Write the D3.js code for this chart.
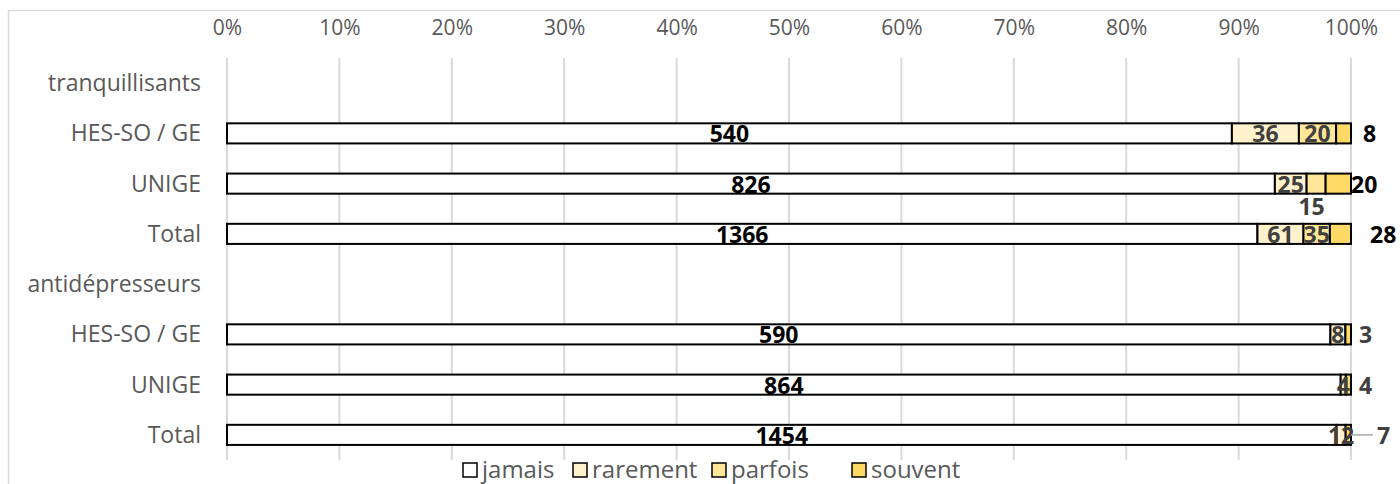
<!DOCTYPE html>
<html>
<head>
<meta charset="utf-8">
<script src="https://cdn.jsdelivr.net/npm/d3@7"></script>
<style>
  body { margin: 0; background: #fff; }
  text { font-family: "Open Sans", sans-serif; }
</style>
</head>
<body>
<script>
const rows = ['tranquillisants', 'HES-SO / GE', 'UNIGE', 'Total',
              'antidépresseurs', 'HES-SO / GE', 'UNIGE', 'Total'];
const series = ['jamais', 'rarement', 'parfois', 'souvent'];
const colors = ['#ffffff', '#fff2cc', '#ffe699', '#ffd966'];
// null = header row without a bar
const jamais   = [null, 540, 826, 1366, null, 590, 864, 1454];
const rarement = [null, 36, 25, 61, null, 8, 4, 12];
const parfois  = [null, 20, 15, 35, null, 0, 0, 0];
const souvent  = [null, 8, 20, 28, null, 3, 4, 7];
const ticks = d3.range(0, 1.01, 0.1);

const width = 1400, height = 484;
const svg = d3.select('body').append('svg')
  .attr('width', width).attr('height', height);

// chart border
svg.append('rect')
  .attr('x', 8.5).attr('y', 10.5).attr('width', 1400).attr('height', 500)
  .attr('fill', 'none').attr('stroke', '#d9d9d9').attr('stroke-width', 1.5);

const x = d3.scaleLinear().domain([0, 1]).range([227, 1351]);
const y = d3.scaleBand().domain(d3.range(rows.length))
  .range([58, 460]).paddingInner(0.6).paddingOuter(0.3);

// gridlines
svg.append('g').selectAll('line').data(ticks).join('line')
  .attr('x1', d => x(d)).attr('x2', d => x(d))
  .attr('y1', 58).attr('y2', 460)
  .attr('stroke', '#d9d9d9').attr('stroke-width', 2);

// top axis labels
const axis = svg.append('g').attr('transform', 'translate(0,35)')
  .call(d3.axisTop(x).tickValues(ticks).tickFormat(d3.format('.0%')).tickSize(0).tickPadding(0));
axis.select('.domain').remove();
axis.selectAll('text').attr('fill', '#595959').style('font-size', '21px')
  .style('font-family', '"Open Sans", sans-serif');

// category labels
svg.append('g').selectAll('text').data(rows).join('text')
  .attr('x', 201).attr('y', (d, i) => y(i) + y.bandwidth() / 2)
  .attr('dy', '0.35em').attr('text-anchor', 'end')
  .attr('fill', '#595959').style('font-size', '23px')
  .text(d => d);

const table = rows.map((r, i) => ({ row: i, jamais: jamais[i], rarement: rarement[i], parfois: parfois[i], souvent: souvent[i] }))
  .filter(d => d.jamais !== null);

const stacked = d3.stack().keys(series)
  .offset(d3.stackOffsetExpand)(table);

const g = svg.append('g');
stacked.forEach((layer, si) => {
  g.selectAll('rect.s' + si).data(layer).join('rect')
    .attr('class', 's' + si)
    .attr('x', d => x(d[0])).attr('width', d => x(d[1]) - x(d[0]))
    .attr('y', d => y(d.data.row)).attr('height', y.bandwidth())
    .attr('fill', colors[si]).attr('stroke', '#000').attr('stroke-width', 2);
});

// data labels
const lab = svg.append('g').style('font-weight', 'bold').style('font-size', '23px');
stacked.forEach((layer, si) => {
  layer.forEach(d => {
    const v = d.data[series[si]];
    if (!v) return;
    const cy = y(d.data.row) + y.bandwidth() / 2 + 9;
    let tx = (x(d[0]) + x(d[1])) / 2, ty = cy, anchor = 'middle';
    let fill = si === 0 ? '#000' : '#404040';
    if (si === 3) {
      anchor = 'start';
      tx = x(1) + (d.data.row < 4 ? 12 : 8);
      fill = d.data.row < 4 ? '#000' : '#404040';
      if (d.data.row === 2) tx = x(1);
      if (d.data.row === 3) tx = x(1) + 19;
      if (d.data.row === 7) {
        tx = x(1) + 26;
        lab.append('line').attr('x1', x(1)).attr('x2', x(1) + 22)
          .attr('y1', cy - 9).attr('y2', cy - 9)
          .attr('stroke', '#a6a6a6').attr('stroke-width', 1.5);
      }
    }
    if (si === 2 && d.data.row === 2) { tx = x(d[0]) + 5; ty = cy + 22; }
    lab.append('text').attr('x', tx).attr('y', ty)
      .attr('text-anchor', anchor).attr('fill', fill).text(v);
  });
});

// legend
const legX = [463, 573, 712, 852];
const leg = svg.append('g').selectAll('g').data(series).join('g')
  .attr('transform', (d, i) => `translate(${legX[i]},463)`);
leg.append('rect').attr('width', 14).attr('height', 14)
  .attr('fill', (d, i) => colors[i]).attr('stroke', '#000').attr('stroke-width', 1.5);
leg.append('text').attr('x', 19).attr('y', 7).attr('dy', '0.35em')
  .attr('fill', '#595959').style('font-size', '24px').text(d => d);
</script>
</body>
</html>
